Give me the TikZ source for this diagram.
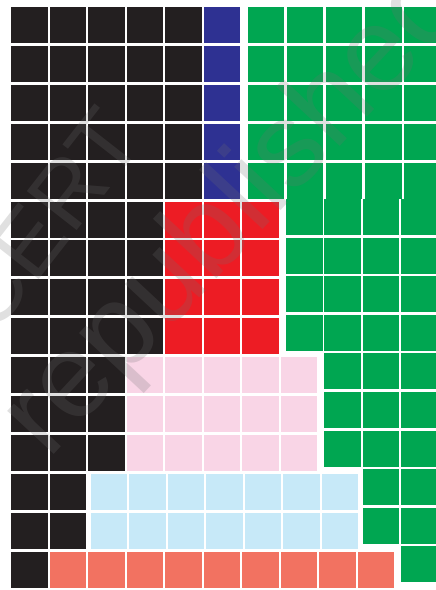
\documentclass[tikz,border=0pt]{standalone}
\usepackage{fontspec}
\newfontfamily\wmfont{Liberation Sans}
\definecolor{cblack}{HTML}{231F20}
\definecolor{cblue}{HTML}{2E3192}
\definecolor{cgreen}{HTML}{00A651}
\definecolor{cred}{HTML}{ED1C24}
\definecolor{cpink}{HTML}{F9D5E6}
\definecolor{clblue}{HTML}{C7E9F8}
\definecolor{csalmon}{HTML}{F27261}
\definecolor{cwm}{HTML}{707070}
\newcommand\lcell[4][0]{\fill[#4] ({11+#1+38.5*#2},{7+38.9*#3}) rectangle ++(36.5,36);}
\newcommand\gcellA[2]{\fill[cgreen] ({247.5+39.2*(#1-6)},{7+39*#2}) rectangle ++(36.5,36);}
\newcommand\gcellB[2]{\fill[cgreen] ({286+38.3*(#1-7)},{199+38.6*(#2-5)}) rectangle ++(36.5,36);}
\tikzset{wm/.style={text=cwm,opacity=0.22,inner sep=0pt}}
\begin{document}
\begin{tikzpicture}[x=1pt,y=-1pt]
\useasboundingbox (0,0) rectangle (436,590);
\clip (0,0) rectangle (436,590);
% rows 0-4: black + blue
\foreach \r in {0,...,4}{
  \foreach \c in {0,...,4}{\lcell{\c}{\r}{cblack}}
  \lcell{5}{\r}{cblue}
}
% rows 5-8: black + red
\foreach \r in {5,...,8}{
  \foreach \c in {0,...,3}{\lcell{\c}{\r}{cblack}}
  \foreach \c in {4,...,6}{\lcell{\c}{\r}{cred}}
}
% rows 9-11: black + pink
\foreach \r in {9,...,11}{
  \foreach \c in {0,...,2}{\lcell{\c}{\r}{cblack}}
  \foreach \c in {3,...,7}{\lcell{\c}{\r}{cpink}}
}
% rows 12-13: black + light blue
\foreach \r in {12,13}{
  \foreach \c in {0,1}{\lcell{\c}{\r}{cblack}}
  \foreach \c in {2,...,8}{\lcell[2.5]{\c}{\r}{clblue}}
}
% row 14: black + salmon
\lcell{0}{14}{cblack}
\foreach \c in {1,...,9}{\lcell{\c}{14}{csalmon}}
% green staircase
\foreach \r in {0,...,4}{\foreach \c in {6,...,10}{\gcellA{\c}{\r}}}
\foreach \r in {5,...,8}{\foreach \c in {7,...,10}{\gcellB{\c}{\r}}}
\foreach \r in {9,...,11}{\foreach \c in {8,...,10}{\gcellB{\c}{\r}}}
\foreach \r in {12,13}{\foreach \c in {9,10}{\gcellB{\c}{\r}}}
\gcellB{10}{14}
% watermark
\node[wm,rotate=52,font=\wmfont\fontsize{92}{92}\selectfont] (wm1) at (45,220) {CERT};
\node[wm,rotate=47,font=\wmfont\fontsize{120}{120}\selectfont] (wm2) at (237,212) {republished};
\end{tikzpicture}
\end{document}
